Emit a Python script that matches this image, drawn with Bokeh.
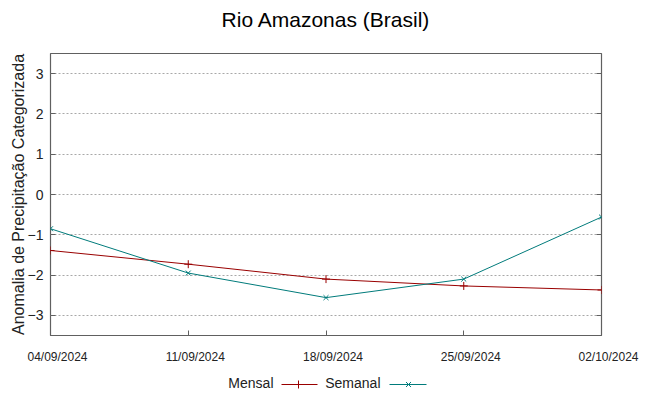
import pandas as pd
from bokeh.plotting import figure
from bokeh.models import (FixedTicker, LinearAxis, Range1d, ColumnDataSource, Label)
from bokeh.layouts import column, row
from bokeh.embed import file_html
from bokeh.resources import INLINE

# ---- data ----
dates = ["2024-09-04", "2024-09-11", "2024-09-18", "2024-09-25", "2024-10-02"]
mensal = [-1.39, -1.73, -2.10, -2.27, -2.37]
semanal = [-0.85, -1.95, -2.56, -2.10, -0.56]
y_ticks = [-3, -2, -1, 0, 1, 2, 3]
title = "Rio Amazonas (Brasil)"
y_label = "Anomalia de Precipitação Categorizada"
series_names = ["Mensal", "Semanal"]

RED = "#990000"
TEAL = "#007b7b"
FONT = "Liberation Sans"
AXC = "#606060"
TXT = "#222222"

dt = pd.to_datetime(dates)
tick_ms = [int(t.value // 10**6) for t in dt]
tick_labels = [t.strftime("%d/%m/%Y") for t in dt]

W = 649
BL, BR = 50, 48          # left / right borders (frame spans page x 50..601)
FW = W - BL - BR
xr = Range1d(dt[0], dt[-1])


def strip(height, x_range, bl=BL, br=BR):
    f = figure(width=W, height=height, x_range=x_range, y_range=Range1d(0, height),
               output_backend="svg", toolbar_location=None,
               min_border_left=bl, min_border_right=br,
               min_border_top=0, min_border_bottom=0)
    f.axis.visible = False
    f.grid.visible = False
    f.outline_line_color = None
    return f


# ---- title strip ----
TH = 40
ts = strip(TH, Range1d(BL, W - BR))
ts.add_layout(Label(x=(BL + W - BR) / 2, y=TH - 19, text=title,
                    text_align="center", text_baseline="middle",
                    text_font=FONT, text_font_size="21px", text_color="#000000"))

# ---- main plot ----
p = figure(width=W, height=300, x_axis_type="datetime",
           x_range=xr, y_range=Range1d(-3.5, 3.5),
           output_backend="svg", toolbar_location=None,
           min_border_left=BL, min_border_right=BR,
           min_border_top=13, min_border_bottom=5)

p.outline_line_color = AXC
p.outline_line_width = 1.2

xa = p.xaxis[0]
xa.ticker = FixedTicker(ticks=tick_ms)
xa.major_label_text_color = None
xa.major_label_text_font_size = "1px"
xa.major_label_standoff = 0
xa.axis_line_color = None
xa.major_tick_in = 5
xa.major_tick_out = 0
xa.major_tick_line_color = AXC
xa.minor_tick_line_color = None

ya = p.yaxis[0]
ya.ticker = FixedTicker(ticks=y_ticks)
ya.axis_line_color = None
ya.major_tick_in = 5
ya.major_tick_out = 0
ya.major_tick_line_color = AXC
ya.minor_tick_line_color = None
ya.major_label_standoff = 7
ya.major_label_text_font = FONT
ya.major_label_text_font_size = "14px"
ya.major_label_text_color = TXT
ya.axis_label = y_label
ya.axis_label_text_font = FONT
ya.axis_label_text_font_size = "16px"
ya.axis_label_text_font_style = "normal"
ya.axis_label_text_color = TXT
ya.axis_label_standoff = -2

ra = LinearAxis(ticker=FixedTicker(ticks=y_ticks), axis_line_color=None,
                major_tick_in=5, major_tick_out=0,
                major_tick_line_color=AXC, minor_tick_line_color=None,
                major_label_text_color=None, major_label_text_font_size="1px")
p.add_layout(ra, "right")

p.xgrid.visible = False
p.ygrid.grid_line_color = "#a8a8a8"
p.ygrid.grid_line_dash = "2 2"
p.ygrid.grid_line_width = 1

src = ColumnDataSource(dict(x=dt, m=mensal, s=semanal))
p.line("x", "m", source=src, line_color=RED, line_width=1)
p.scatter("x", "m", source=src, marker="cross", size=8, line_color=RED,
          line_width=1, fill_color=None)
p.line("x", "s", source=src, line_color=TEAL, line_width=1)
p.scatter("x", "s", source=src, marker="x", size=7, line_color=TEAL,
          line_width=1, fill_color=None)

# ---- x tick labels strip: full-width frame, same time scale as the plot ----
XH = 28
per_px = (dt[-1] - dt[0]) / FW
xs = strip(XH, Range1d(dt[0] - per_px * BL, dt[-1] + per_px * BR), bl=0, br=0)
for ms, lab in zip(tick_ms, tick_labels):
    xs.add_layout(Label(x=ms, y=XH - 16, text=lab, x_offset=7,
                        text_align="center", text_baseline="middle",
                        text_font=FONT, text_font_size="12px", text_color=TXT))

# ---- legend strip (text left of sample, as in gnuplot) ----
LH = 28
leg = strip(LH, Range1d(BL, W - BR))
leg_text_x = [273, 380]
leg_line_x0 = [281, 389]
leg_line_x1 = [317, 426]
leg_mark_x = [298, 408]
leg_y = 12
colors = [RED, TEAL]
markers = ["cross", "x"]
msizes = [8, 7]
for i in range(2):
    leg.add_layout(Label(x=leg_text_x[i], y=leg_y + 2, text=series_names[i],
                         text_align="right", text_baseline="middle",
                         text_font=FONT, text_font_size="14px", text_color=TXT))
    leg.segment(x0=[leg_line_x0[i]], y0=[leg_y], x1=[leg_line_x1[i]], y1=[leg_y],
                line_color=colors[i], line_width=1)
    leg.scatter(x=[leg_mark_x[i]], y=[leg_y], marker=markers[i], size=msizes[i],
                line_color=colors[i], fill_color=None)

layout = column(ts, p, row(xs), leg, spacing=0)
open("out.html", "w").write(file_html(layout, INLINE))
